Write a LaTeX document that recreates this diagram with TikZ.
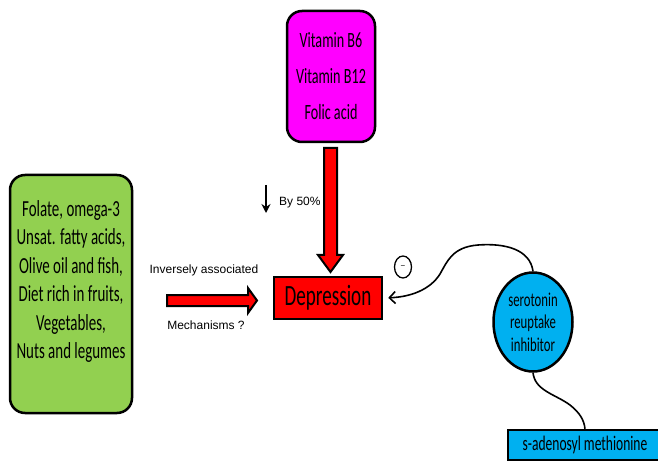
\documentclass[tikz,border=0pt]{standalone}
\usepackage{fontspec}
\setmainfont{Liberation Sans}
\newfontfamily\cond[FakeStretch=0.65]{Carlito}
\usetikzlibrary{shapes.geometric,arrows.meta,calc}
\definecolor{mag}{RGB}{255,0,255}
\definecolor{lgreen}{RGB}{146,208,80}
\definecolor{lblue}{RGB}{0,176,240}
\definecolor{dred}{RGB}{255,0,0}
\tikzset{
  rbox/.style={draw=black, line width=2.5pt, rounded corners=15pt, inner sep=0pt},
  sbox/.style={draw=black, line width=2.5pt, inner sep=0pt},
  fat/.style={draw=black, fill=dred, line width=2pt, line join=miter},
  lbl/.style={font=\fontsize{12}{13}\selectfont, inner sep=0pt},
  conn/.style={draw=black, line width=1.6pt},
}
\begin{document}
\begin{tikzpicture}[x=1pt,y=-1pt]
\useasboundingbox (0,0) rectangle (658,470);
% magenta box
\node[rbox, fill=mag, minimum width=88pt, minimum height=131pt, align=center,
  font={\cond\fontsize{21.8}{36}\selectfont}] (vit) at (331,76.5)
  {Vitamin B6\\Vitamin B12\\Folic acid};
% green box
\node[rbox, fill=lgreen, minimum width=122pt, minimum height=238pt] (food) at (71,294) {};
\node[inner sep=0pt, align=center, font={\cond\fontsize{23}{28.5}\selectfont}] (foodtxt) at (71,281.5)
  {Folate, omega-3\\Unsat. fatty acids,\\Olive oil and fish,\\Diet rich in fruits,\\Vegetables,\\Nuts and legumes};
% depression
\node[sbox, fill=dred, minimum width=108pt, minimum height=42pt,
  font={\cond\fontsize{29.4}{30}\selectfont}] (dep) at (328,298) {Depression};
% serotonin reuptake inhibitor
\node[ellipse, draw=black, line width=2.5pt, fill=lblue, minimum width=79pt, minimum height=99pt,
  inner sep=0pt, align=center, font={\cond\fontsize{19.6}{22.5}\selectfont}] (sri) at (533,322)
  {serotonin\\reuptake\\inhibitor};
% SAM
\node[sbox, fill=lblue, minimum width=154pt, minimum height=30pt,
  font={\cond\fontsize{20.8}{22}\selectfont}] (sam) at (585,445) {s-adenosyl methionine};
% minus sign
\node[ellipse, draw=black, line width=1.3pt, minimum width=17pt, minimum height=22pt, inner sep=0pt,
  font={\fontsize{8}{8}\selectfont}] (minus) at (403,267) {−};
% labels
\node[lbl] (inv) at (204,270) {Inversely associated};
\node[lbl] (mech) at (206,325) {Mechanisms ?};
\node[lbl, anchor=west] (by50) at (279,203) {By 50\%};
\coordinate (da1) at (266,185);
\coordinate (da2) at (266,213);
\draw[line width=1.6pt, -{Stealth[length=9pt,width=9pt]}] (da1) -- (da2);
% vertical fat arrow
\coordinate (vs) at (330.5,148);
\coordinate (vt) at (330.5,272);
\draw[fat] ($(vs)+(-6.5,0)$) -- ($(vt)+(-6.5,-17)$) -- ($(vt)+(-12.5,-17)$) -- (vt)
  -- ($(vt)+(12.5,-17)$) -- ($(vt)+(6.5,-17)$) -- ($(vs)+(6.5,0)$) -- cycle;
% horizontal fat arrow
\coordinate (hs) at (167,300.5);
\coordinate (ht) at (257,300.5);
\draw[fat] ($(hs)+(0,-5.5)$) -- ($(ht)+(-9,-5.5)$) -- ($(ht)+(-9,-12.5)$) -- (ht)
  -- ($(ht)+(-9,12.5)$) -- ($(ht)+(-9,5.5)$) -- ($(hs)+(0,5.5)$) -- cycle;
% curves
\draw[conn, -{Straight Barb[length=6pt,width=12pt]}, shorten >=5pt]
  (sri.north) .. controls +(-3,-22) and (505,243) .. (478,245)
  .. controls (452,247) and (447,262) .. (440,274)
  .. controls (430,290) and (410,297) .. (dep.east);
\draw[conn] (sri.south) .. controls +(2,18) and (555,394) .. (570,405)
  .. controls (580,413) and (584,420) .. (sam.north);
\end{tikzpicture}
\end{document}
